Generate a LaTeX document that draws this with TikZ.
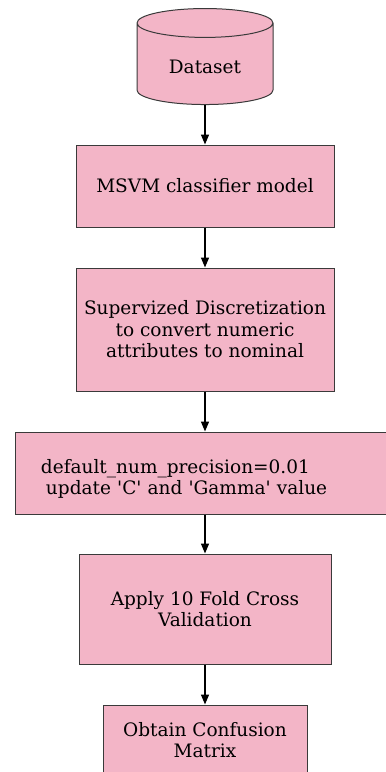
\documentclass[tikz,border=0pt]{standalone}
\usepackage{fontspec}
\setmainfont{DejaVu Serif}
\usetikzlibrary{shapes.geometric, arrows.meta}
\definecolor{boxPink}{HTML}{F3B5C7}
\definecolor{edgeGray}{HTML}{3A3A3A}

\begin{document}
\begin{tikzpicture}[x=1pt, y=-1pt,
    stage/.style={draw=edgeGray, fill=boxPink, line width=1pt, align=center,
        inner sep=0pt, font=\fontsize{18.5}{21.5}\selectfont},
    flow/.style={-{Triangle[length=10pt, width=8pt]}, line width=1.4pt}]
    \useasboundingbox (0,0) rectangle (386,772);
    \node[stage, cylinder, shape border rotate=90, aspect=0.4,
        text height=19pt, text depth=0pt,
        minimum width=136pt, minimum height=96pt] (data) at (205,64) {Dataset};
    \node[stage, minimum width=258pt, minimum height=82pt] (model) at (205,186)
        {MSVM classifier model};
    \node[stage, minimum width=258pt, minimum height=123pt] (discret) at (205,329.5)
        {Supervized Discretization\\ to convert numeric\\ attributes to nominal};
    \node[stage, text width=328pt, inner xsep=26pt, align=left,
        minimum height=82pt] (params) at (205,473)
        {\rule{0pt}{26pt}default\_num\_precision=0.01\\ \hspace*{5pt}update \textquotesingle C\textquotesingle{} and \textquotesingle Gamma\textquotesingle{} value};
    \node[stage, minimum width=252pt, minimum height=110pt] (crossval) at (205,609)
        {Apply 10 Fold Cross\\ Validation};
    \node[stage, minimum width=204pt, minimum height=70pt] (confusion) at (205,740)
        {Obtain Confusion\\ Matrix};
    % connectors
    \draw[flow] (data) -- (model);
    \draw[flow] (model) -- (discret);
    \draw[flow] (discret) -- (params);
    \draw[flow] (params) -- (crossval);
    \draw[flow] (crossval) -- (confusion);
\end{tikzpicture}
\end{document}
